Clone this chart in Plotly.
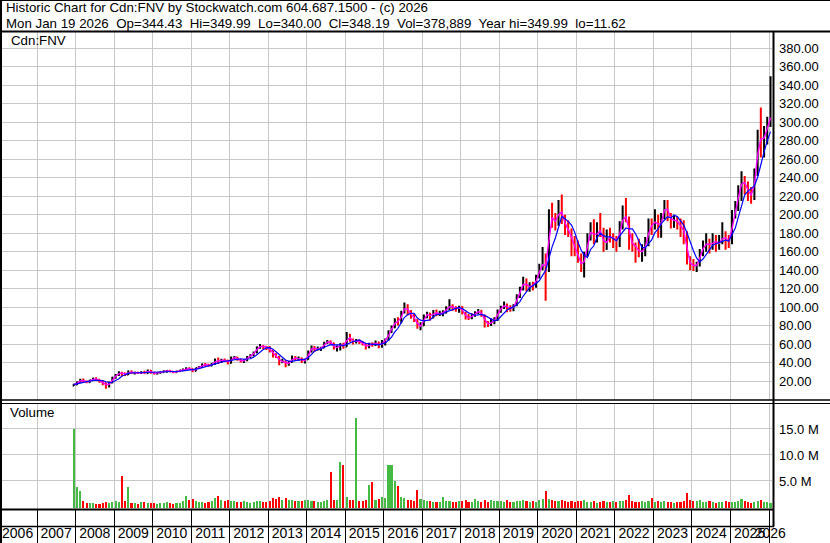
import plotly.graph_objects as go

# ---------------- data (monthly, Dec 2007 .. Jan 2026) ----------------
opens = [
    15.0,
    16.2, 18.8, 21.5, 19.6, 18.6, 20.8, 22.8, 21.6, 19.2, 18.0, 14.5, 18.2,
    23.8, 26.5, 29.0, 28.5, 26.8, 30.5, 28.8, 29.2, 28.6, 29.5, 28.4, 31.5,
    29.0, 28.0, 29.0, 29.6, 30.8, 31.2, 30.2, 29.5, 30.5, 31.6, 32.5, 33.8,
    33.2, 30.8, 34.0, 35.2, 38.2, 37.8, 36.4, 38.6, 42.5, 41.6, 43.0, 42.2,
    39.5, 45.2, 45.8, 43.2, 41.2, 42.5, 46.0, 47.8, 51.0, 56.5, 58.0, 57.0,
    56.6, 52.5, 47.8, 46.4, 40.2, 42.0, 37.8, 40.5, 45.5, 44.0, 44.6, 41.0,
    43.2, 52.0, 57.0, 53.8, 55.2, 56.0, 61.2, 63.0, 61.0, 55.0, 57.0, 60.0,
    57.2, 70.0, 64.2, 61.8, 64.0, 62.0, 59.8, 56.5, 60.2, 59.6, 62.0, 57.0,
    63.2, 64.5, 73.5, 78.5, 86.0, 83.2, 94.5, 101.5, 94.2, 90.5, 86.2, 78.5,
    80.2, 90.5, 93.0, 88.5, 95.5, 92.0, 93.5, 94.0, 99.5, 101.5, 99.0, 98.0,
    100.4, 93.5, 89.0, 88.0, 91.5, 94.0, 96.2, 91.0, 82.5, 81.5, 84.0, 87.0,
    95.8, 100.0, 102.5, 99.0, 97.5, 102.0, 111.5, 120.0, 129.0, 120.5, 124.0, 122.5,
    133.5, 142, 150, 140, 198, 196, 190, 210, 196, 186, 182, 170,
    162, 152, 142, 156, 176, 186, 172, 186, 180, 163, 178, 175,
    175, 168, 190, 199, 196, 170, 168, 164, 158, 163, 168, 190,
    185, 198, 182, 197, 212, 200, 192, 196, 190, 186, 180, 150,
    146, 143, 146, 160, 165, 172, 164, 174, 168, 170, 178, 172,
    170, 200, 208, 228, 238, 232, 222, 220, 244, 285, 278, 288,
    297,
]
highs = [
    17.0,
    19.5, 22.5, 22.8, 20.5, 21.5, 23.5, 24.0, 22.0, 21.0, 18.5, 19.5, 24.5,
    27.5, 30.5, 30.0, 29.0, 31.5, 31.5, 30.0, 30.0, 30.5, 31.0, 32.5, 32.0,
    30.0, 29.5, 30.5, 31.5, 32.0, 32.0, 30.8, 31.0, 32.0, 33.5, 35.0, 35.0,
    33.5, 34.5, 36.0, 39.0, 39.5, 38.5, 39.5, 44.5, 45.5, 44.0, 44.5, 43.0,
    46.5, 47.0, 46.0, 44.0, 43.5, 47.0, 49.0, 52.0, 57.5, 60.0, 59.0, 58.0,
    58.0, 53.0, 50.0, 47.0, 44.0, 42.5, 42.0, 47.5, 47.0, 46.5, 45.5, 44.0,
    53.0, 58.5, 58.0, 57.5, 57.0, 62.5, 64.5, 64.0, 61.5, 58.5, 61.0, 61.5,
    73.0, 71.0, 66.0, 65.5, 65.0, 63.0, 60.5, 61.5, 62.0, 64.0, 62.5, 64.5,
    66.0, 75.0, 80.0, 88.0, 89.0, 96.0, 105.0, 103.0, 97.0, 92.5, 87.0, 83.5,
    92.0, 95.0, 94.0, 97.0, 97.5, 96.0, 96.5, 101.0, 108.5, 103.0, 101.0, 101.5,
    101.0, 95.0, 92.5, 93.0, 95.5, 98.0, 97.0, 92.0, 85.0, 88.0, 89.0, 97.5,
    101.5, 106.0, 104.0, 102.0, 103.0, 114.0, 122.0, 133.0, 131.0, 127.0, 127.5, 135.0,
    147, 165, 158, 206, 213, 202, 216, 222, 200, 194, 185, 177,
    172, 158, 160, 180, 192, 195, 192, 202, 186, 184, 186, 180,
    177, 193, 210, 218, 198, 180, 170, 174, 168, 176, 196, 196,
    206, 200, 202, 216, 216, 202, 200, 198, 196, 194, 182, 155,
    152, 149, 163, 172, 180, 174, 180, 178, 178, 192, 182, 178,
    205, 215, 232, 247, 242, 236, 230, 250, 292, 316, 296, 306,
    350,
]
lows = [
    14.5,
    15.5, 18.0, 18.5, 17.5, 18.0, 20.0, 20.5, 18.0, 15.5, 11.6, 13.0, 17.5,
    22.5, 25.5, 25.5, 25.5, 26.5, 27.5, 27.0, 27.5, 27.5, 27.8, 28.0, 28.0,
    27.0, 27.0, 28.0, 29.0, 29.0, 29.5, 28.5, 29.0, 30.0, 31.0, 32.0, 32.5,
    29.5, 30.5, 33.0, 35.0, 36.0, 35.5, 36.0, 37.5, 38.5, 39.5, 40.5, 38.0,
    39.0, 43.5, 42.0, 40.0, 39.5, 41.5, 45.0, 46.5, 50.0, 55.0, 54.5, 53.5,
    51.0, 45.5, 45.0, 37.0, 39.5, 35.0, 36.5, 40.0, 42.5, 42.0, 39.5, 39.0,
    43.0, 51.0, 51.5, 53.0, 52.5, 55.5, 60.0, 59.0, 54.0, 52.0, 53.0, 55.0,
    57.0, 62.5, 59.5, 60.5, 60.0, 58.5, 54.0, 55.5, 57.0, 58.0, 55.5, 56.0,
    58.5, 63.5, 72.0, 77.0, 80.0, 82.5, 93.0, 91.0, 87.5, 84.0, 76.5, 75.0,
    79.5, 88.0, 85.5, 88.0, 90.0, 90.5, 90.0, 93.0, 97.0, 96.0, 95.0, 94.0,
    92.0, 86.5, 86.0, 87.0, 89.5, 92.5, 89.5, 78.0, 78.5, 79.5, 81.5, 85.0,
    94.0, 98.0, 94.5, 95.0, 95.5, 101.0, 110.0, 118.0, 117.0, 116.5, 118.0, 121.0,
    131, 140, 107, 138, 186, 183, 188, 190, 178, 176, 155, 155,
    148, 138, 132, 155, 172, 168, 170, 176, 160, 162, 170, 164,
    160, 165, 184, 192, 162, 160, 148, 154, 149, 155, 166, 178,
    184, 175, 175, 195, 193, 185, 186, 184, 176, 168, 146, 140,
    139, 138, 144, 155, 160, 158, 162, 160, 162, 168, 162, 164,
    168, 196, 204, 215, 222, 215, 212, 216, 242, 262, 262, 276,
    295,
]
closes = [
    16.2,
    18.8, 21.5, 19.6, 18.6, 20.8, 22.8, 21.6, 19.2, 18.0, 14.5, 18.2, 23.8,
    26.5, 29.0, 28.5, 26.8, 30.5, 28.8, 29.2, 28.6, 29.5, 28.4, 31.5, 29.0,
    28.0, 29.0, 29.6, 30.8, 31.2, 30.2, 29.5, 30.5, 31.6, 32.5, 33.8, 33.2,
    30.8, 34.0, 35.2, 38.2, 37.8, 36.4, 38.6, 42.5, 41.6, 43.0, 42.2, 39.5,
    45.2, 45.8, 43.2, 41.2, 42.5, 46.0, 47.8, 51.0, 56.5, 58.0, 57.0, 56.6,
    52.5, 47.8, 46.4, 40.2, 42.0, 37.8, 40.5, 45.5, 44.0, 44.6, 41.0, 43.2,
    52.0, 57.0, 53.8, 55.2, 56.0, 61.2, 63.0, 61.0, 55.0, 57.0, 60.0, 57.2,
    70.0, 64.2, 61.8, 64.0, 62.0, 59.8, 56.5, 60.2, 59.6, 62.0, 57.0, 63.2,
    64.5, 73.5, 78.5, 86.0, 83.2, 94.5, 101.5, 94.2, 90.5, 86.2, 78.5, 80.2,
    90.5, 93.0, 88.5, 95.5, 92.0, 93.5, 94.0, 99.5, 101.5, 99.0, 98.0, 100.4,
    93.5, 89.0, 88.0, 91.5, 94.0, 96.2, 91.0, 82.5, 81.5, 84.0, 87.0, 95.8,
    100.0, 102.5, 99.0, 97.5, 102.0, 111.5, 120.0, 129.0, 120.5, 124.0, 122.5, 133.5,
    142, 150, 140, 198, 196, 190, 210, 196, 186, 182, 170, 162,
    152, 142, 156, 176, 186, 172, 186, 180, 163, 178, 175, 175,
    168, 190, 199, 196, 170, 168, 164, 158, 163, 168, 190, 185,
    198, 182, 197, 212, 200, 192, 196, 190, 186, 180, 150, 146,
    143, 146, 160, 165, 172, 164, 174, 168, 170, 178, 172, 170,
    200, 208, 228, 238, 232, 222, 220, 244, 285, 278, 288, 297,
    348.19,
]
ma_fast = [
    16.2,
    17.5, 20.2, 20.5, 19.1, 19.7, 21.8, 22.2, 20.4, 18.6, 16.2, 16.4, 21.0,
    25.2, 27.8, 28.8, 27.6, 28.6, 29.6, 29.0, 28.9, 29.0, 29.0, 30.0, 30.2,
    28.5, 28.5, 29.3, 30.2, 31.0, 30.7, 29.8, 30.0, 31.0, 32.0, 33.2, 33.5,
    32.0, 32.4, 34.6, 36.7, 38.0, 37.1, 37.5, 40.5, 42.0, 42.3, 42.6, 40.8,
    42.4, 45.5, 44.5, 42.2, 41.8, 44.2, 46.9, 49.4, 53.8, 57.2, 57.5, 56.8,
    54.5, 50.2, 47.1, 43.3, 41.1, 39.9, 39.1, 43.0, 44.8, 44.3, 42.8, 42.1,
    47.6, 54.5, 55.4, 54.5, 55.6, 58.6, 62.1, 62.0, 58.0, 56.0, 58.5, 58.6,
    63.6, 67.1, 63.0, 62.9, 63.0, 60.9, 58.2, 58.4, 59.9, 60.8, 59.5, 60.1,
    63.9, 69.0, 76.0, 82.2, 84.6, 88.8, 98.0, 97.8, 92.4, 88.4, 82.4, 79.4,
    85.4, 91.8, 90.8, 92.0, 93.8, 92.8, 93.8, 96.8, 100.5, 100.2, 98.5, 99.2,
    97.0, 91.2, 88.5, 89.8, 92.8, 95.1, 93.6, 86.8, 82.0, 82.8, 85.5, 91.4,
    97.9, 101.2, 100.8, 98.2, 99.8, 106.8, 115.8, 124.5, 124.8, 122.2, 123.2, 128.0,
    137.8, 146.0, 145.0, 169.0, 197.0, 193.0, 200.0, 203.0, 191.0, 184.0, 176.0, 166.0,
    157, 147, 149, 166, 181, 179, 179, 183, 172, 170, 176, 175,
    172, 179, 194, 198, 183, 169, 166, 161, 160, 165, 179, 188,
    192, 190, 190, 205, 206, 196, 194, 193, 188, 183, 165, 148,
    145, 145, 153, 163, 168, 168, 169, 171, 169, 174, 175, 171,
    185, 204, 218, 233, 235, 227, 221, 232, 265, 282, 283, 293,
    305,
]
ma_slow = [
    16.2,
    17.0, 18.5, 19.0, 19.3, 19.8, 20.7, 20.7, 20.6, 20.5, 19.2, 18.3, 18.7,
    20.2, 22.4, 25.2, 27.0, 28.3, 28.7, 28.8, 28.8, 29.3, 28.9, 29.4, 29.3,
    29.3, 29.2, 29.4, 29.7, 29.7, 30.2, 30.3, 30.4, 30.6, 30.9, 31.6, 32.3,
    32.4, 32.9, 33.4, 34.4, 35.2, 36.3, 37.2, 38.7, 39.4, 40.4, 41.6, 41.8,
    42.3, 43.1, 43.9, 44.1, 43.6, 43.7, 44.1, 45.7, 48.8, 51.9, 54.1, 55.8,
    56.1, 54.4, 52.1, 48.7, 45.8, 42.8, 41.4, 41.2, 42.0, 42.5, 43.1, 43.7,
    45.1, 48.8, 52.2, 54.0, 54.8, 56.6, 57.8, 59.3, 59.2, 59.4, 59.2, 58.0,
    59.8, 61.7, 62.6, 63.4, 64.4, 62.4, 60.8, 60.5, 59.6, 59.6, 59.1, 60.4,
    61.3, 64.0, 67.5, 73.1, 77.1, 83.1, 88.7, 91.9, 93.2, 93.3, 88.2, 85.9,
    85.2, 85.7, 86.1, 89.5, 91.9, 92.5, 92.7, 94.9, 96.1, 97.5, 98.4, 99.7,
    98.5, 96.0, 93.8, 92.5, 91.2, 91.7, 92.1, 91.0, 89.0, 87.0, 85.2, 86.2,
    89.7, 93.9, 96.9, 98.9, 100.2, 102.5, 106.0, 112.0, 116.6, 121.0, 123.2, 125.9,
    128.5, 134.4, 139.6, 152.6, 165.2, 174.8, 186.8, 198.0, 195.6, 192.8, 188.8, 181.2,
    170.4, 161.6, 156.4, 153.6, 162.4, 166.4, 175.2, 180.0, 177.4, 175.8, 176.4, 174.2,
    171.8, 177.2, 181.4, 185.6, 184.6, 184.6, 179.4, 171.2, 164.6, 164.2, 168.6, 172.8,
    180.8, 184.6, 190.4, 194.8, 197.8, 196.6, 199.4, 198.0, 192.8, 188.8, 180.4, 170.4,
    161.0, 153.0, 149.0, 152.0, 157.2, 161.4, 167.0, 168.6, 169.6, 170.8, 172.4, 171.6,
    178.0, 185.6, 197.2, 208.8, 221.2, 225.6, 228.0, 231.2, 240.6, 255.0, 268.0, 280.0,
    290,
]
volumes_m = [
    15.1,
    3.9, 3.1, 1.2, 0.9, 0.8, 0.9, 0.7, 0.6, 0.9, 1.1, 0.9, 1.0,
    1.2, 1.0, 6.0, 1.3, 3.9, 0.9, 0.8, 0.7, 1.0, 1.1, 0.9, 0.8,
    0.8, 0.7, 0.8, 0.9, 1.0, 0.8, 0.7, 0.8, 0.9, 1.2, 2.3, 1.5,
    1.6, 1.2, 1.0, 1.1, 0.9, 1.0, 1.2, 1.8, 2.3, 1.5, 1.3, 1.4,
    1.3, 1.2, 1.1, 1.0, 1.2, 1.1, 0.9, 1.0, 1.3, 1.2, 1.0, 1.1,
    1.2, 1.9, 1.6, 2.0, 1.5, 1.8, 1.4, 1.5, 1.3, 1.2, 1.3, 1.4,
    1.5, 1.3, 1.2, 1.1, 1.0, 1.2, 1.4, 6.8, 1.5, 1.4, 8.8, 8.1,
    2.0, 1.5, 1.4, 17.2, 1.3, 1.2, 1.5, 4.4, 4.9, 1.5, 1.6, 2.0,
    1.8, 8.1, 8.1, 5.0, 4.2, 2.0, 1.8, 1.5, 1.4, 1.3, 3.3, 1.6,
    1.4, 1.3, 1.2, 1.1, 1.0, 1.1, 2.1, 1.2, 1.3, 1.0, 1.1, 1.2,
    1.2, 1.4, 1.1, 1.0, 1.6, 1.2, 1.0, 1.5, 1.1, 1.4, 1.3, 1.2,
    1.2, 1.0, 1.5, 1.1, 1.0, 1.3, 1.2, 1.4, 1.3, 1.1, 1.2, 1.1,
    1.4, 1.6, 3.1, 1.6, 1.5, 1.3, 1.2, 1.4, 1.3, 1.0, 1.2, 1.1,
    1.3, 1.2, 1.4, 1.1, 1.0, 1.2, 0.9, 1.0, 1.3, 1.1, 1.0, 1.2,
    1.1, 1.3, 1.2, 1.4, 2.5, 1.2, 1.1, 1.0, 1.2, 1.0, 1.3, 1.9,
    1.1, 1.2, 1.0, 1.3, 1.1, 1.0, 0.9, 1.0, 1.1, 1.3, 2.7, 1.5,
    1.3, 1.2, 1.4, 1.1, 1.0, 1.2, 1.0, 0.9, 1.1, 1.0, 1.2, 1.1,
    1.0, 1.1, 1.3, 1.6, 1.2, 1.0, 0.9, 1.1, 1.3, 1.5, 1.1, 1.0,
    0.9,
]
price_ticks = [20, 40, 60, 80, 100, 120, 140, 160, 180, 200, 220, 240,
               260, 280, 300, 320, 340, 360, 380]
volume_ticks = [5, 10, 15]
volume_tick_text = ["5.0 M", "10.0 M", "15.0 M"]
year_labels = [str(y) for y in range(2006, 2027)]

header_1 = "Historic Chart for Cdn:FNV by Stockwatch.com 604.687.1500 - (c) 2026"
header_2 = ("Mon Jan 19 2026  Op=344.43  Hi=349.99  Lo=340.00  Cl=348.19  "
            "Vol=378,889  Year hi=349.99  lo=11.62")

# ---------------- layout helpers ----------------
W, H = 830, 543
FONT = "Liberation Sans, Arial, sans-serif"

n = len(closes)
dates = []
for i in range(n):
    k = 11 + i
    dates.append(f"{2007 + k // 12}-{k % 12 + 1:02d}-15")


def py(p):
    return 1 - p / H


def pxx(p):
    return p / W


x_dom = [pxx(2), pxx(772)]
x_range = ["2006-02-03", "2026-01-29"]
GRID = "#c8c8c8"

vol_colors = ["#44b944" if c >= o else "#ff0000" for o, c in zip(opens, closes)]

label_x = [f"{y}-07-01" for y in year_labels[:-1]] + ["2026-01-12"]

fig = go.Figure()
fig.add_trace(go.Ohlc(
    x=dates, open=opens, high=highs, low=lows, close=closes,
    increasing=dict(line=dict(color="black", width=2)),
    decreasing=dict(line=dict(color="red", width=2)),
    tickwidth=0.35, hoverinfo="skip", xaxis="x", yaxis="y",
))
fig.add_trace(go.Scatter(x=dates, y=ma_fast, mode="lines",
                         line=dict(color="#ff00ff", width=1.4),
                         hoverinfo="skip", xaxis="x", yaxis="y"))
fig.add_trace(go.Scatter(x=dates, y=ma_slow, mode="lines",
                         line=dict(color="#0000ff", width=1.2),
                         hoverinfo="skip", xaxis="x", yaxis="y"))
fig.add_trace(go.Bar(x=dates, y=volumes_m, marker=dict(color=vol_colors, line=dict(width=0)),
                     width=20 * 86400000, hoverinfo="skip", xaxis="x2", yaxis="y2"))
fig.add_trace(go.Scatter(x=label_x, y=[0.27] * len(year_labels), mode="text",
                         text=year_labels, textposition="middle center",
                         textfont=dict(size=14, color="black", family=FONT),
                         cliponaxis=False, hoverinfo="skip", xaxis="x3", yaxis="y3"))

xcommon = dict(type="date", range=x_range, domain=x_dom, showgrid=True,
               dtick="M12", tick0="2006-01-01", showticklabels=False,
               ticks="", zeroline=False, showline=False, fixedrange=True,
               automargin=False)

fig.update_layout(
    width=W, height=H,
    margin=dict(l=0, r=0, t=0, b=0, pad=0),
    paper_bgcolor="white", plot_bgcolor="white",
    showlegend=False,
    font=dict(family=FONT, size=13, color="black"),
    bargap=0,
    xaxis=dict(**xcommon, anchor="y", gridcolor=GRID, gridwidth=1,
               rangeslider=dict(visible=False)),
    xaxis2=dict(**xcommon, anchor="y2", gridcolor=GRID, gridwidth=1, matches="x"),
    xaxis3=dict(**xcommon, anchor="y3", gridcolor="black", gridwidth=1, matches="x"),
    yaxis=dict(domain=[py(400), py(32)], range=[-0.54, 397.8], side="right",
               anchor="x", tickvals=price_ticks,
               ticktext=[f"{v:.2f}" for v in price_ticks],
               showgrid=True, gridcolor=GRID, gridwidth=1, zeroline=False,
               ticks="", ticklabelstandoff=6, automargin=False, fixedrange=True,
               tickfont=dict(size=13, color="black", family=FONT)),
    yaxis2=dict(domain=[py(509), py(403.5)], range=[-0.385, 19.9], side="right",
                anchor="x2", tickvals=volume_ticks, ticktext=volume_tick_text,
                showgrid=True, gridcolor=GRID, gridwidth=1, zeroline=False,
                ticks="", ticklabelstandoff=6, automargin=False, fixedrange=True,
                tickfont=dict(size=13, color="black", family=FONT)),
    yaxis3=dict(domain=[0, py(510)], range=[0, 1], anchor="x3",
                showgrid=False, zeroline=False, showticklabels=False,
                ticks="", automargin=False, fixedrange=True),
)

shapes = [
    dict(type="line", xref="paper", yref="paper", x0=0, x1=1, y0=py(0.5), y1=py(0.5),
         line=dict(color="black", width=1)),
    dict(type="line", xref="paper", yref="paper", x0=pxx(1), x1=pxx(1), y0=0, y1=1,
         line=dict(color="black", width=2)),
    dict(type="line", xref="paper", yref="paper", x0=0, x1=1, y0=py(31.5), y1=py(31.5),
         line=dict(color="black", width=2)),
    dict(type="line", xref="paper", yref="paper", x0=0, x1=1, y0=py(400), y1=py(400),
         line=dict(color="black", width=1.5)),
    dict(type="line", xref="paper", yref="paper", x0=0, x1=1, y0=py(403.5), y1=py(403.5),
         line=dict(color="black", width=1)),
    dict(type="line", xref="paper", yref="paper", x0=0, x1=pxx(774), y0=py(509.5), y1=py(509.5),
         line=dict(color="black", width=2)),
    dict(type="line", xref="paper", yref="paper", x0=0, x1=pxx(774), y0=py(526.5), y1=py(526.5),
         line=dict(color="black", width=1.5)),
    dict(type="line", xref="paper", yref="paper", x0=pxx(773.5), x1=pxx(773.5),
         y0=py(526.5), y1=py(31), line=dict(color="black", width=2)),
]
fig.update_layout(shapes=shapes)

annotations = [
    dict(text=header_1, x=pxx(4), y=py(7.5)),
    dict(text=header_2, x=pxx(4), y=py(23)),
    dict(text="Cdn:FNV", x=pxx(9), y=py(40.7)),
    dict(text="Volume", x=pxx(8), y=py(413)),
]
for a in annotations:
    a.update(xref="paper", yref="paper", xanchor="left", yanchor="middle",
             showarrow=False, font=dict(size=13.3, color="black", family=FONT))
fig.update_layout(annotations=annotations)

fig.write_html(
    "out.html",
    config={"displayModeBar": False},
    post_script=("document.documentElement.style.margin='0';"
                 "document.body.style.margin='0';"
                 "document.body.style.padding='0';"
                 "document.body.style.overflow='hidden';"),
)
